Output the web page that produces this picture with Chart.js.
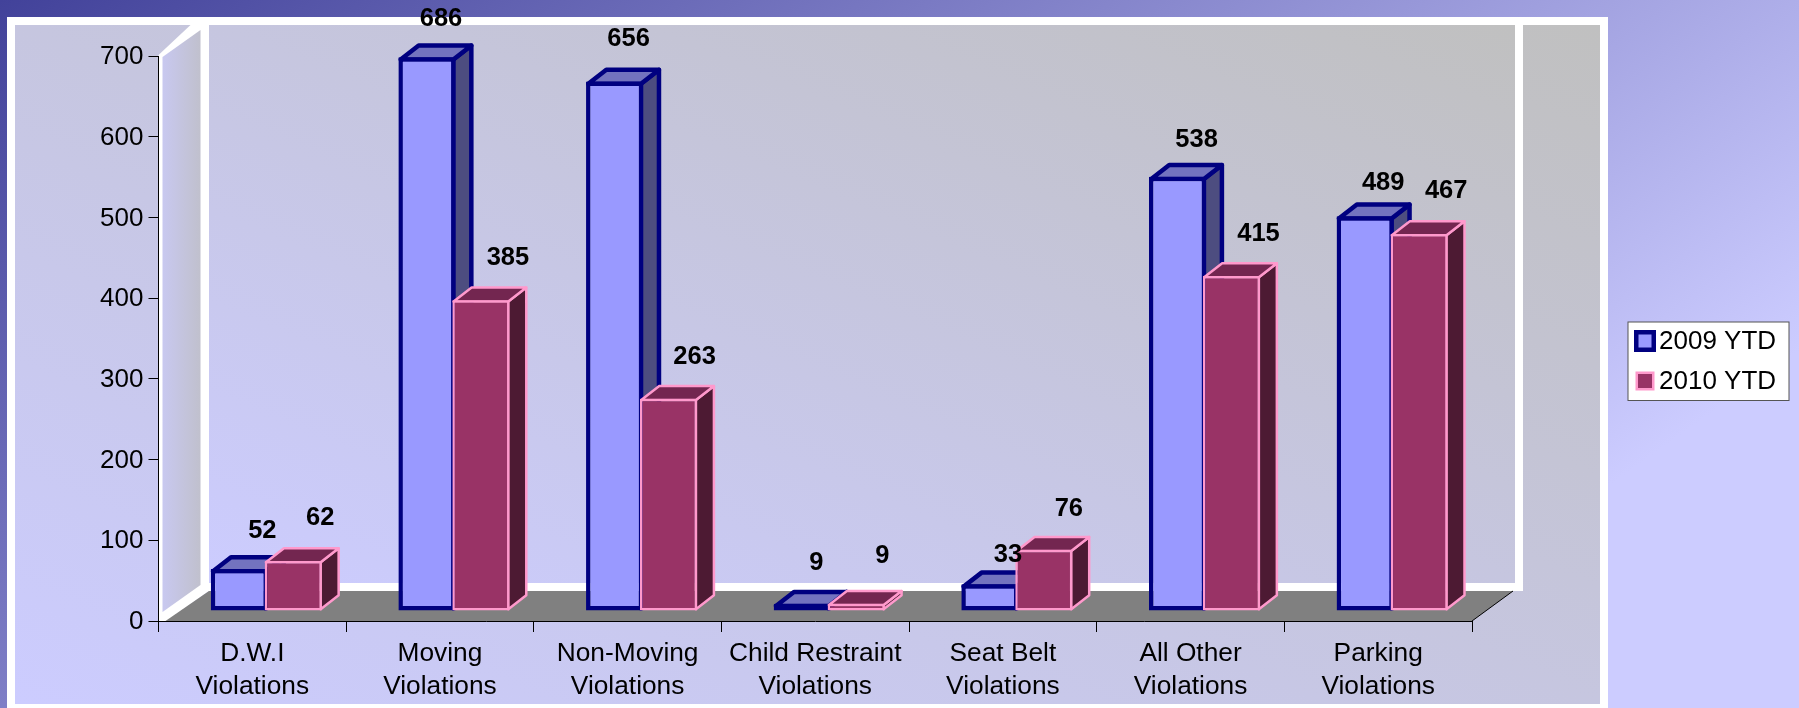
<!DOCTYPE html>
<html lang="en">
<head>
  <meta charset="UTF-8">
  <title>Violations 2009 vs 2010 YTD</title>
  <script src="https://cdn.jsdelivr.net/npm/chart.js"></script>
  <style>
    html, body {
      margin: 0;
      padding: 0;
      width: 1799px;
      height: 708px;
      overflow: hidden;
      background: linear-gradient(144.7deg, #42429a 0%, #ccccff 82%);
    }
    canvas { display: block; }
  </style>
</head>

<body>
  <canvas id="chart" width="1799" height="708"></canvas>

  <script>
    const categories = [
      ['D.W.I', 'Violations'],
      ['Moving', 'Violations'],
      ['Non-Moving', 'Violations'],
      ['Child Restraint', 'Violations'],
      ['Seat Belt', 'Violations'],
      ['All Other', 'Violations'],
      ['Parking', 'Violations']
    ];
    const values2009 = [52, 686, 656, 9, 33, 538, 489];
    const values2010 = [62, 385, 263, 9, 76, 415, 467];
    const seriesNames = ['2009 YTD', '2010 YTD'];

    // where the value labels sit relative to the top of their bar
    const labelNudge2009 = [[23, -38], [14, -38], [14, -43], [14, -41], [18, -29], [19, -37], [18, -33]];
    const labelNudge2010 = [[27, -43], [27, -42], [26, -42], [26, -48], [25, -41], [27, -42], [27, -43]];

    const FONT = '"Liberation Sans", Arial, sans-serif';
    const BAR_SHIFT_X = 14, BAR_SHIFT_Y = -10;   // bars stand a bit behind the axis plane
    const DEPTH_X = 18, DEPTH_Y = 14;            // depth of one bar

    const styles = [
      { fill: '#9999ff', line: '#000080', top: '#7373bf', side: '#4d4d80', width: 4.5 },
      { fill: '#993366', line: '#ff99cc', top: '#732650', side: '#4d1a33', width: 2.5 }
    ];

    // same result as a css "to top right" gradient
    function cornerGradient(ctx, x, y, w, h, from, to) {
      const L2 = w * w + h * h;
      const dx = h * (w * h / L2), dy = -w * (w * h / L2);
      const cx = x + w / 2, cy = y + h / 2;
      const g = ctx.createLinearGradient(cx - dx, cy - dy, cx + dx, cy + dy);
      g.addColorStop(0, from);
      g.addColorStop(1, to);
      return g;
    }

    function poly(ctx, pts) {
      ctx.beginPath();
      pts.forEach((p, i) => i ? ctx.lineTo(p[0], p[1]) : ctx.moveTo(p[0], p[1]));
      ctx.closePath();
    }

    // panel, back wall, side wall and floor
    const backdrop = {
      id: 'backdrop',
      beforeDraw(chart) {
        const ctx = chart.ctx, a = chart.chartArea;
        ctx.save();
        // panel
        ctx.fillStyle = '#fff';
        ctx.fillRect(7, 17, 1601, 691);
        ctx.fillStyle = cornerGradient(ctx, 15, 25, 1585, 679, '#ccccff', '#c0c0c0');
        ctx.fillRect(15, 25, 1585, 679);

        // white frame of the walls
        const backY = a.bottom - 30, wallL = a.left + 42, wallR = a.right + 43;
        ctx.fillStyle = '#fff';
        poly(ctx, [[a.left, a.top - 1], [a.left + 32, 25], [wallL + 8.5, 25], [wallL + 8.5, backY],
                   [a.left + 7, a.bottom + 1], [a.left, a.bottom + 1]]);
        ctx.fill();
        ctx.fillRect(wallL, backY - 8, wallR - wallL + 8, 8);
        ctx.fillRect(wallR, 25, 8, backY - 25);

        // back wall
        ctx.fillStyle = cornerGradient(ctx, wallL + 8.5, 25, wallR - wallL - 8.5, backY - 33, '#ccccff', '#c0c0c0');
        ctx.fillRect(wallL + 8.5, 25, wallR - wallL - 8.5, backY - 33);

        // side wall
        const side = ctx.createLinearGradient(a.left + 4, 0, wallL, 0);
        side.addColorStop(0, 'rgba(200,200,240,1)');
        side.addColorStop(1, 'rgba(192,192,205,1)');
        ctx.fillStyle = side;
        poly(ctx, [[a.left + 4, a.top + 1], [wallL, 30], [wallL, backY - 6], [a.left + 4, a.bottom - 9]]);
        ctx.fill();

        // floor
        ctx.fillStyle = '#808080';
        poly(ctx, [[a.left + 7, a.bottom], [wallL + 8.5, backY], [a.right + 41, backY], [a.right, a.bottom]]);
        ctx.fill();
        ctx.strokeStyle = '#000';
        ctx.lineWidth = 1;
        ctx.beginPath();
        ctx.moveTo(a.right, a.bottom);
        ctx.lineTo(a.right + 41, backY);
        ctx.stroke();
        ctx.restore();
      }
    };

    // 2009 has to go under 2010, so the datasets are drawn here in index order.
    // Top and side faces first, then the front through the bar controller.
    const bars3d = {
      id: 'bars3d',
      beforeDatasetsDraw(chart) {
        const ctx = chart.ctx;
        chart.getSortedVisibleDatasetMetas().forEach(meta => {
          const s = styles[meta.index], half = s.width / 2;
          ctx.save();
          ctx.translate(BAR_SHIFT_X, BAR_SHIFT_Y);
          ctx.lineWidth = s.width;
          ctx.lineJoin = 'round';
          ctx.strokeStyle = s.line;
          meta.data.forEach(el => {
            const l = el.x - el.width / 2 + half, r = el.x + el.width / 2 - half;
            const t = el.y + half, b = el.base - half;
            ctx.fillStyle = s.side;
            poly(ctx, [[r, t], [r + DEPTH_X, t - DEPTH_Y], [r + DEPTH_X, b - DEPTH_Y], [r, b]]);
            ctx.fill();
            ctx.stroke();
            ctx.fillStyle = s.top;
            poly(ctx, [[l, t], [l + DEPTH_X, t - DEPTH_Y], [r + DEPTH_X, t - DEPTH_Y], [r, t]]);
            ctx.fill();
            ctx.stroke();
          });
          meta.controller.draw();
          ctx.restore();
        });
        return false;
      }
    };

    const valueLabels = {
      id: 'valueLabels',
      afterDraw(chart) {
        const ctx = chart.ctx;
        const nudges = [labelNudge2009, labelNudge2010];
        ctx.save();
        ctx.font = 'bold 25.5px ' + FONT;
        ctx.fillStyle = '#000';
        ctx.textAlign = 'center';
        ctx.textBaseline = 'middle';
        chart.data.datasets.forEach((ds, i) => {
          chart.getDatasetMeta(i).data.forEach((el, j) => {
            const n = nudges[i][j];
            ctx.fillText(ds.data[j], el.x + BAR_SHIFT_X + n[0], el.y + BAR_SHIFT_Y + n[1]);
          });
        });
        ctx.restore();
      }
    };

    const legendBox = {
      id: 'legendBox',
      afterDraw(chart) {
        const ctx = chart.ctx;
        ctx.save();
        ctx.fillStyle = '#fff';
        ctx.fillRect(1628, 322, 161, 78.5);
        ctx.strokeStyle = '#555';
        ctx.lineWidth = 1;
        ctx.strokeRect(1628, 322, 161, 78.5);
        ctx.font = '26px ' + FONT;
        ctx.textBaseline = 'middle';
        chart.data.datasets.forEach((ds, i) => {
          const s = styles[i], y = 341 + i * 40;
          const size = i === 0 ? 22 : 19;
          const x = 1645 - size / 2, top = y - size / 2;
          ctx.fillStyle = s.line;
          ctx.fillRect(x, top, size, size);
          ctx.fillStyle = s.fill;
          ctx.fillRect(x + s.width, top + s.width, size - 2 * s.width, size - 2 * s.width);
          ctx.fillStyle = '#000';
          ctx.fillText(ds.label, 1659, y + 1);
        });
        ctx.restore();
      }
    };

    new Chart(document.getElementById('chart'), {
      type: 'bar',
      data: {
        labels: categories,
        datasets: [
          {
            label: seriesNames[0], data: values2009,
            backgroundColor: styles[0].fill, borderColor: styles[0].line,
            borderWidth: styles[0].width, borderSkipped: false
          },
          {
            label: seriesNames[1], data: values2010,
            backgroundColor: styles[1].fill, borderColor: styles[1].line,
            borderWidth: styles[1].width, borderSkipped: false
          }
        ]
      },
      options: {
        responsive: false,
        animation: false,
        events: [],
        layout: { autoPadding: false, padding: { left: 0, top: 56, right: 327, bottom: 0 } },
        datasets: { bar: { categoryPercentage: 0.575, barPercentage: 1.06 } },
        plugins: { legend: { display: false }, tooltip: { enabled: false } },
        scales: {
          x: {
            afterFit: s => { s.height = 87; },
            grid: { drawOnChartArea: false, color: '#000', tickLength: 11, offset: true },
            border: { color: '#000' },
            ticks: {
              color: '#000', maxRotation: 0, autoSkip: false, padding: 6,
              font: { family: FONT, size: 26.3, lineHeight: 1.23 }
            }
          },
          y: {
            min: 0,
            max: 700,
            afterFit: s => { s.width = 158.5; },
            grid: { drawOnChartArea: false, color: '#000', tickLength: 10 },
            border: { color: '#000' },
            ticks: {
              color: '#000', stepSize: 100, padding: 5, labelOffset: 1,
              font: { family: FONT, size: 26 }
            }
          }
        }
      },
      plugins: [backdrop, bars3d, valueLabels, legendBox]
    });
  </script>
</body>
</html>
